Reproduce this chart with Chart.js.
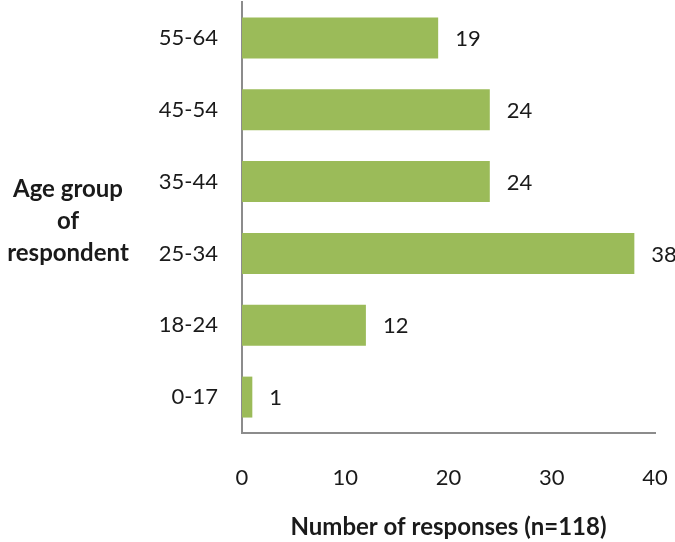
<!DOCTYPE html>
<html>
<head>
<meta charset="utf-8">
<script src="https://cdn.jsdelivr.net/npm/chart.js@4/dist/chart.umd.min.js"></script>
<style>
  html, body { margin: 0; padding: 0; background: #ffffff; }
  #wrap { width: 675px; height: 542px; position: relative; }
</style>
</head>
<body>
<div id="wrap"><canvas id="chart" width="675" height="542"></canvas></div>
<script>
// Age groups, listed top to bottom as drawn
const ageGroups = ['55-64', '45-54', '35-44', '25-34', '18-24', '0-17'];
// Number of responses per age group
const responses = [19, 24, 24, 38, 12, 1];
// Value-axis ticks
const xTicks = [0, 10, 20, 30, 40];

const yTitleLines = ['Age group', 'of', 'respondent'];
const xTitle = 'Number of responses (n=118)';

const FONT = 'Lato, "Open Sans", "Liberation Sans", sans-serif';
const TEXT = '#1a1a1a';
const AXIS = '#8c8c8c';
const TICK_SIZE = 22;
const TITLE_SIZE = 24;

// Fixed axis sizes; edge label overflow is not reserved as extra padding
function fixSize(prop, size) {
  return scale => {
    scale[prop] = size;
    scale.paddingLeft = scale.paddingRight = scale.paddingTop = scale.paddingBottom = 0;
  };
}

// Writes each bar's value just past its end
const valueLabels = {
  id: 'valueLabels',
  afterDatasetsDraw(chart) {
    const ctx = chart.ctx;
    const meta = chart.getDatasetMeta(0);
    ctx.save();
    ctx.font = TICK_SIZE + 'px ' + FONT;
    ctx.fillStyle = TEXT;
    ctx.textAlign = 'left';
    ctx.textBaseline = 'middle';
    meta.data.forEach((bar, i) => {
      ctx.fillText(String(chart.data.datasets[0].data[i]), bar.x + 17, bar.y + 1);
    });
    ctx.restore();
  }
};

// Horizontal, multi-line title for the category axis
const sideTitle = {
  id: 'sideTitle',
  afterDraw(chart) {
    const ctx = chart.ctx;
    const area = chart.chartArea;
    const cx = 68;
    const lineGap = 32;
    const mid = (area.top + area.bottom) / 2 + 4;
    ctx.save();
    ctx.font = 'bold ' + TITLE_SIZE + 'px ' + FONT;
    ctx.fillStyle = TEXT;
    ctx.textAlign = 'center';
    ctx.textBaseline = 'middle';
    yTitleLines.forEach((line, i) => {
      ctx.fillText(line, cx, mid + (i - (yTitleLines.length - 1) / 2) * lineGap);
    });
    ctx.restore();
  }
};

new Chart(document.getElementById('chart'), {
  type: 'bar',
  data: {
    labels: ageGroups,
    datasets: [{
      data: responses,
      backgroundColor: '#9bbb59',
      borderWidth: 0,
      categoryPercentage: 1.0,
      barPercentage: 0.57
    }]
  },
  options: {
    indexAxis: 'y',
    responsive: false,
    animation: false,
    layout: { autoPadding: false, padding: { top: 2, right: 20, bottom: 0, left: 0 } },
    plugins: {
      legend: { display: false },
      tooltip: { enabled: false }
    },
    scales: {
      x: {
        min: 0,
        max: 40,
        afterBuildTicks(scale) {
          scale.ticks = xTicks.map(v => ({ value: v }));
        },
        afterFit: fixSize('height', 109),
        grid: { display: false, drawTicks: false },
        border: { display: true, color: AXIS, width: 2 },
        ticks: {
          padding: 32,
          color: TEXT,
          font: { family: FONT, size: TICK_SIZE }
        },
        title: {
          display: true,
          text: xTitle,
          color: TEXT,
          font: { family: FONT, size: TITLE_SIZE, weight: 'bold' },
          padding: { top: 0, bottom: 0 }
        }
      },
      y: {
        afterFit: fixSize('width', 242),
        grid: { display: false, drawTicks: false },
        border: { display: true, color: AXIS, width: 2 },
        ticks: {
          padding: 24,
          color: TEXT,
          font: { family: FONT, size: TICK_SIZE }
        }
      }
    }
  },
  plugins: [valueLabels, sideTitle]
});
</script>
</body>
</html>
